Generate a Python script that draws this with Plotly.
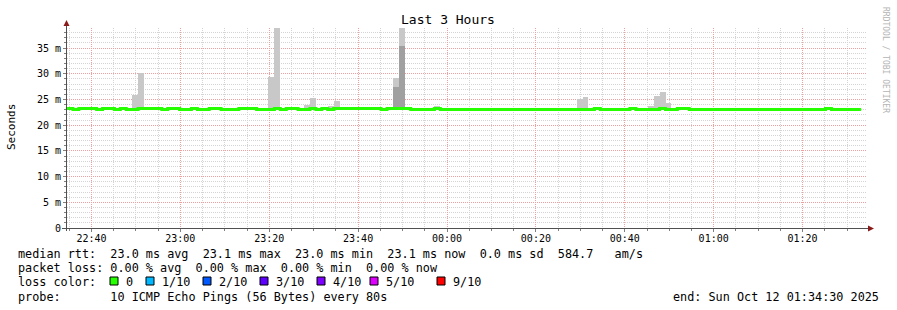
import pandas as pd
import plotly.graph_objects as go

# ---------------- data ----------------
START = "2025-10-11 22:34:30"
END = "2025-10-12 01:34:30"
STEP_S = 80

# median rtt per 80 s step (ms); None = no data
median_ms = [
    23.25, 23.05, 23.25, 23.25, 23.25, 23.05, 23.25, 23.25, 23.05, 23.25,
    23.05, 23.05, 23.25, 23.25, 23.25, 23.25, 23.05, 23.25, 23.25, 23.05,
    23.05, 23.25, 23.05, 23.05, 23.25, 23.25, 23.05, 23.05, 23.05, 23.25,
    23.25, 23.25, 23.05, 23.05, 23.05, 23.25, 23.05, 23.25, 23.25, 23.05,
    23.05, 23.25, 23.05, 23.25, 23.05, 23.25, 23.25, 23.25, 23.25, 23.25,
    23.25, 23.25, 23.25, 23.05, 23.25, 23.25, 23.25, 23.25, 23.05, 23.05,
    23.05, 23.05, 23.25, 23.05, 23.05, 23.05, 23.05, 23.05, 23.05, 23.05,
    23.05, 23.05, 23.05, 23.05, 23.05, 23.05, 23.05, 23.05, 23.05, 23.05,
    23.05, 23.05, 23.05, 23.05, 23.05, 23.05, 23.05, 23.05, 23.05, 23.25,
    23.05, 23.05, 23.05, 23.05, 23.05, 23.25, 23.05, 23.05, 23.05, 23.05,
    23.25, 23.05, 23.05, 23.25, 23.25, 23.05, 23.05, 23.05, 23.05, 23.05,
    23.05, 23.05, 23.05, 23.05, 23.05, 23.05, 23.05, 23.05, 23.05, 23.05,
    23.05, 23.05, 23.05, 23.05, 23.05, 23.05, 23.05, 23.05, 23.25, 23.05,
    23.05, 23.05, 23.05, 23.05, None,
]

# smoke (ping spread): step index -> highest ping (ms)
smoke_idx = [3, 9, 11, 12, 34, 35, 40, 41, 44, 45, 46, 55, 56, 61, 62,
             86, 87, 98, 99, 100, 101, 119, 120, 127, 128]
smoke_max = [23.5, 23.5, 25.9, 30.1, 29.4, 38.9, 24.0, 25.3, 23.7, 24.7, 23.5, 29.2, 38.9, 23.3, 23.7,
             25.1, 25.5, 23.7, 25.7, 26.4, 24.3, 23.3, 23.3, 23.3, 23.5]
smoke_min = 22.9
# inner (darker) smoke band
dark_idx = [55, 56]
dark_max = [27.4, 35.4]

y_tickvals = [0, 5, 10, 15, 20, 25, 30, 35]
y_ticktext = ["0", "5 m", "10 m", "15 m", "20 m", "25 m", "30 m", "35 m"]

loss_labels = ["0", "1/10", "2/10", "3/10", "4/10", "5/10", "9/10"]
loss_colors = ["#26ff00", "#00b8ff", "#0059ff", "#5e00ff", "#7e00ff", "#dd00ff", "#ff0000"]

# ---------------- figure ----------------
W, H = 897, 310
L, T, PW, PH = 67, 28, 800, 200


def px(x):
    return (x - L) / PW


def py(y):
    return (T + PH - y) / PH


starts = pd.date_range(START, periods=len(median_ms), freq=f"{STEP_S}s")
half = pd.Timedelta(seconds=STEP_S / 2)

fig = go.Figure()

fig.add_trace(go.Bar(
    x=[starts[i] + half for i in smoke_idx],
    y=[v - smoke_min for v in smoke_max],
    base=smoke_min,
    width=STEP_S * 1000,
    marker=dict(color="#c8c8c8", line=dict(width=0)),
    hoverinfo="skip", showlegend=False,
))
fig.add_trace(go.Bar(
    x=[starts[i] + half for i in dark_idx],
    y=[v - smoke_min for v in dark_max],
    base=smoke_min,
    width=STEP_S * 1000,
    marker=dict(color="#a0a0a0", line=dict(width=0)),
    hoverinfo="skip", showlegend=False,
))

valid = [i for i, v in enumerate(median_ms) if v is not None]
lx = [starts[i] for i in valid] + [starts[valid[-1]] + pd.Timedelta(seconds=STEP_S)]
ly = [median_ms[i] for i in valid] + [median_ms[valid[-1]]]
fig.add_trace(go.Scatter(
    x=lx, y=ly, mode="lines", line=dict(color="#26ff00", width=3, shape="hv"),
    hoverinfo="skip", showlegend=False,
))

MONO = "DejaVu Sans Mono"
gray_grid = "#d4d4d4"
red_grid = "#eea0a0"

fig.update_layout(
    width=W, height=H,
    margin=dict(l=L, r=W - L - PW, t=T, b=H - T - PH, pad=0),
    paper_bgcolor="white", plot_bgcolor="white",
    barmode="overlay", bargap=0,
    font=dict(family=MONO, size=10, color="#000000"),
    showlegend=False,
    xaxis=dict(
        type="date", range=[START, END],
        tickformat="%H:%M", tick0="2025-10-11 22:40:00", dtick=20 * 60 * 1000,
        showgrid=True, gridcolor=red_grid, griddash="1px,1px", gridwidth=1,
        ticks="outside", ticklen=3, tickcolor="#808080",
        ticklabelstandoff=-2,
        showline=False, zeroline=False,
        tickfont=dict(family=MONO, size=10, color="#000000"),
        minor=dict(dtick=5 * 60 * 1000, tick0="2025-10-11 22:40:00", showgrid=True,
                   gridcolor=gray_grid, griddash="1px,1px", gridwidth=1,
                   ticks="outside", ticklen=2, tickcolor="#808080"),
        fixedrange=True,
    ),
    yaxis=dict(
        range=[0, 38.9],
        tickmode="array", tickvals=y_tickvals, ticktext=y_ticktext,
        showgrid=True, gridcolor=red_grid, griddash="1px,1px", gridwidth=1,
        ticks="outside", ticklen=3, tickcolor="#808080",
        showline=False, zeroline=False,
        tickfont=dict(family=MONO, size=10, color="#000000"),
        minor=dict(dtick=1, tick0=0, showgrid=True, gridcolor=gray_grid,
                   griddash="1px,1px", gridwidth=1, ticks="outside", ticklen=2,
                   tickcolor="#808080"),
        fixedrange=True,
    ),
)

shapes = []
# axis lines
shapes.append(dict(type="line", xref="paper", yref="paper", x0=px(62), x1=px(869),
                   y0=py(228.5), y1=py(228.5), line=dict(color="#505050", width=1)))
shapes.append(dict(type="line", xref="paper", yref="paper", x0=px(66.5), x1=px(66.5),
                   y0=py(231), y1=py(24), line=dict(color="#505050", width=1)))
# arrows
shapes.append(dict(type="path", xref="paper", yref="paper",
                   path=f"M {px(63.5)} {py(26)} L {px(69.5)} {py(26)} L {px(66.5)} {py(20)} Z",
                   fillcolor="#8b1a1a", line=dict(width=0)))
shapes.append(dict(type="path", xref="paper", yref="paper",
                   path=f"M {px(868)} {py(225.5)} L {px(868)} {py(231.5)} L {px(874)} {py(228.5)} Z",
                   fillcolor="#8b1a1a", line=dict(width=0)))

box_x = [110, 146, 203, 260, 317, 370, 437]
for bx, col in zip(box_x, loss_colors):
    shapes.append(dict(type="rect", xref="paper", yref="paper",
                       x0=px(bx), x1=px(bx + 8), y0=py(285), y1=py(277),
                       fillcolor=col, line=dict(color="#000000", width=1)))
fig.update_layout(shapes=shapes)

NB = "\u00a0"


def t(s):
    return s.replace(" ", NB)


ann = []
ann.append(dict(text="Last 3 Hours", x=px(448), y=py(19), xref="paper", yref="paper",
                xanchor="center", yanchor="middle", showarrow=False,
                font=dict(family=MONO, size=13, color="#000")))
ann.append(dict(text="Seconds", x=px(11), y=py(127), xref="paper", yref="paper",
                xanchor="center", yanchor="middle", showarrow=False, textangle=-90,
                font=dict(family=MONO, size=11, color="#000")))
ann.append(dict(text=t("RRDTOOL / TOBI OETIKER"), x=px(886), y=py(60), xref="paper", yref="paper",
                xanchor="center", yanchor="middle", showarrow=False, textangle=90,
                font=dict(family=MONO, size=8, color="#b4b4b4")))

LF = dict(family=MONO, size=11.8, color="#000")
lines = [
    ("median rtt:  23.0 ms avg  23.1 ms max  23.0 ms min  23.1 ms now  0.0 ms sd  584.7   am/s", 253.5),
    ("packet loss: 0.00 % avg  0.00 % max  0.00 % min  0.00 % now", 268),
    ("loss color:", 281.5),
    ("probe:       10 ICMP Echo Pings (56 Bytes) every 80s", 296.5),
]
for s, yy in lines:
    ann.append(dict(text=t(s), x=px(16), y=py(yy), xref="paper", yref="paper",
                    xanchor="left", yanchor="middle", showarrow=False, font=LF))
for bx, lab in zip(box_x, loss_labels):
    ann.append(dict(text=lab, x=px(bx + 14), y=py(281.5), xref="paper", yref="paper",
                    xanchor="left", yanchor="middle", showarrow=False, font=LF))
ann.append(dict(text=t("end: Sun Oct 12 01:34:30 2025"), x=px(881), y=py(296.5),
                xref="paper", yref="paper", xanchor="right", yanchor="middle",
                showarrow=False, font=LF))
fig.update_layout(annotations=ann)

fig.write_html("out.html", config={"displayModeBar": False})
